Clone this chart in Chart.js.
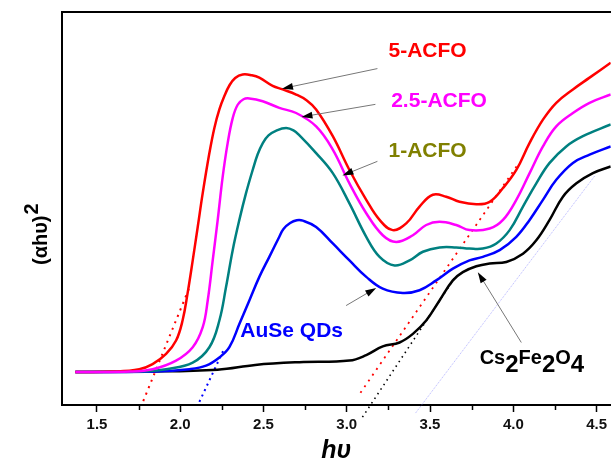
<!DOCTYPE html>
<html>
<head>
  <script src="https://cdn.jsdelivr.net/npm/chart.js"></script>
  <style>
    body { margin:0; background:#fff; }
    #wrap { width:611px; height:460px; }
  </style>
</head>
<body>
<div id="wrap"><canvas id="myChart" width="611" height="460"></canvas></div>
<script>
  var FONT = "'Liberation Sans', Arial, sans-serif";

  // x axis (photon energy) range and ticks
  var xMin = 1.29, xMax = 4.585;
  var xTickValues = [1.5, 2.0, 2.5, 3.0, 3.5, 4.0, 4.5];
  var xTickLabels = ["1.5", "2.0", "2.5", "3.0", "3.5", "4.0", "4.5"];
  var xMinorTicks = [1.75, 2.25, 2.75, 3.25, 3.75, 4.25];

  // 5-ACFO
  var acfo5X = [1.37, 1.60, 1.754, 1.834, 1.915, 1.975, 2.014, 2.044, 2.075, 2.105, 2.135, 2.175, 2.205, 2.235, 2.265, 2.295, 2.33, 2.375, 2.43, 2.475, 2.555, 2.615, 2.696, 2.76, 2.816, 2.916, 3.016, 3.117, 3.197, 3.276, 3.357, 3.437, 3.517, 3.597, 3.677, 3.778, 3.858, 3.938, 4.018, 4.098, 4.178, 4.258, 4.358, 4.458, 4.585];
  var acfo5Y = [8.4, 8.5, 9.1, 10.4, 13.0, 16.4, 21.5, 28.4, 36.8, 45.3, 53.9, 64.1, 70.5, 75.2, 78.6, 81.3, 83.2, 84.1, 83.9, 83.3, 81.2, 80.3, 79.0, 77.5, 75.2, 68.4, 59.8, 52.2, 47.1, 44.5, 46.2, 50.5, 53.5, 53.0, 51.7, 51.1, 51.7, 55.2, 59.8, 66.7, 72.6, 76.9, 80.3, 83.3, 87.1];

  // 2.5-ACFO
  var acfo25X = [1.37, 1.70, 1.834, 1.975, 2.075, 2.135, 2.165, 2.195, 2.225, 2.255, 2.285, 2.315, 2.345, 2.38, 2.415, 2.495, 2.595, 2.696, 2.816, 2.916, 3.016, 3.117, 3.216, 3.297, 3.397, 3.477, 3.557, 3.657, 3.737, 3.858, 3.938, 4.018, 4.098, 4.178, 4.258, 4.358, 4.458, 4.585];
  var acfo25Y = [8.4, 8.5, 9.1, 11.3, 14.7, 19.8, 26.6, 36.8, 47.1, 58.1, 66.7, 73.0, 76.4, 77.8, 78.0, 77.3, 75.6, 74.3, 70.9, 65.0, 56.4, 48.8, 43.2, 41.5, 43.2, 45.8, 46.6, 45.8, 44.5, 44.9, 47.1, 52.2, 59.0, 65.8, 70.9, 74.3, 76.9, 79.0];

  // 1-ACFO
  var acfo1X = [1.37, 1.80, 1.915, 2.075, 2.175, 2.235, 2.275, 2.315, 2.355, 2.395, 2.435, 2.465, 2.495, 2.53, 2.58, 2.636, 2.68, 2.716, 2.816, 2.916, 3.016, 3.117, 3.197, 3.287, 3.377, 3.457, 3.557, 3.657, 3.737, 3.817, 3.898, 3.978, 4.058, 4.138, 4.218, 4.318, 4.418, 4.585];
  var acfo1Y = [8.4, 8.6, 9.1, 10.8, 14.7, 21.5, 30.0, 39.4, 47.1, 53.9, 59.8, 63.8, 66.6, 68.6, 69.9, 70.5, 69.9, 68.6, 64.1, 59.0, 51.3, 42.8, 37.7, 35.5, 36.8, 39.0, 40.1, 40.1, 39.8, 39.8, 41.1, 44.5, 50.5, 56.4, 61.6, 65.8, 68.4, 71.4];

  // AuSe QDs
  var auseX = [1.37, 1.85, 2.055, 2.155, 2.235, 2.295, 2.355, 2.415, 2.475, 2.535, 2.595, 2.62, 2.66, 2.70, 2.736, 2.816, 2.916, 3.016, 3.117, 3.216, 3.337, 3.437, 3.537, 3.637, 3.737, 3.817, 3.918, 4.018, 4.098, 4.178, 4.258, 4.358, 4.458, 4.585];
  var auseY = [8.4, 8.5, 9.1, 10.0, 12.1, 14.7, 20.6, 26.6, 32.6, 37.7, 42.8, 44.8, 46.3, 47.0, 46.9, 45.3, 41.1, 36.8, 32.6, 29.6, 28.5, 29.2, 31.7, 34.7, 36.8, 37.7, 39.4, 42.8, 47.1, 52.2, 57.3, 61.6, 63.7, 65.8];

  // Cs2Fe2O4
  var cfoX = [1.37, 1.80, 2.224, 2.45, 2.716, 3.016, 3.117, 3.216, 3.317, 3.397, 3.477, 3.557, 3.637, 3.697, 3.778, 3.858, 3.958, 4.058, 4.138, 4.218, 4.298, 4.379, 4.478, 4.585];
  var cfoY = [8.4, 8.5, 9.0, 10.2, 10.9, 11.3, 12.7, 14.9, 15.9, 18.1, 21.5, 26.6, 31.7, 33.8, 35.3, 36.0, 36.4, 38.5, 41.9, 47.1, 53.0, 56.4, 59.0, 60.7];

  // band-gap tangent lines (two end points each)
  var tanRedLowX = [1.778, 2.055],  tanRedLowY = [1.0, 29.9];
  var tanBlueX   = [2.115, 2.26],   tanBlueY   = [0.8, 14.0];
  var tanRedHiX  = [3.082, 4.026],  tanRedHiY  = [3.1, 61.1];
  var tanBlackX  = [3.094, 3.653],  tanBlackY  = [-3.1, 32.7];
  var tanLilacX  = [3.413, 4.489],  tanLilacY  = [-2.05, 58.3];

  // curve labels
  var labelText  = ["5-ACFO", "2.5-ACFO", "1-ACFO", "AuSe QDs"];
  var labelX     = [3.485, 3.554, 3.485, 2.669];
  var labelY     = [90.0, 77.3, 64.5, 18.9];
  var labelColor = ["#ff0000", "#ff00ff", "#808000", "#0000ff"];
  var cfoLabelX = 3.798, cfoLabelY = 10.4;

  // pointer arrows: tail -> head
  var arrowTailX = [3.184, 3.172, 3.184, 2.996, 4.048];
  var arrowTailY = [85.6, 76.5, 62.0, 25.3, 15.9];
  var arrowHeadX = [2.611, 2.728, 2.974, 3.177, 3.787];
  var arrowHeadY = [80.5, 73.3, 58.4, 29.8, 33.8];

  function pts(xs, ys) {
    return xs.map(function(x, i) { return {x:x, y:ys[i]}; });
  }

  function curve(xs, ys, color) {
    return {data:pts(xs, ys), borderColor:color, borderWidth:2.5, tension:0.4, pointRadius:0, fill:false};
  }
  function tangent(xs, ys, color, width, dash) {
    return {data:pts(xs, ys), borderColor:color, borderWidth:width, borderDash:dash, pointRadius:0, fill:false, clip:false};
  }

  var extras = {
    id: 'extras',
    afterDatasetsDraw: function(chart) {
      var ctx = chart.ctx, xs = chart.scales.x, ys = chart.scales.y, a = chart.chartArea;
      ctx.save();
      // top frame line
      ctx.strokeStyle = '#000';
      ctx.lineWidth = 2;
      ctx.beginPath();
      ctx.moveTo(a.left - 1, a.top);
      ctx.lineTo(chart.width, a.top);
      ctx.stroke();
      // minor ticks
      ctx.lineWidth = 1.5;
      xMinorTicks.forEach(function(v) {
        var px = Math.round(xs.getPixelForValue(v)) + 0.5;
        ctx.beginPath();
        ctx.moveTo(px, a.bottom);
        ctx.lineTo(px, a.bottom + 5);
        ctx.stroke();
      });
      // arrows
      for (var i = 0; i < arrowTailX.length; i++) {
        var x1 = xs.getPixelForValue(arrowTailX[i]), y1 = ys.getPixelForValue(arrowTailY[i]);
        var x2 = xs.getPixelForValue(arrowHeadX[i]), y2 = ys.getPixelForValue(arrowHeadY[i]);
        var ang = Math.atan2(y2 - y1, x2 - x1);
        ctx.strokeStyle = '#777';
        ctx.lineWidth = 1;
        ctx.beginPath();
        ctx.moveTo(x1, y1);
        ctx.lineTo(x2 - 8 * Math.cos(ang), y2 - 8 * Math.sin(ang));
        ctx.stroke();
        ctx.fillStyle = '#000';
        ctx.beginPath();
        ctx.moveTo(x2, y2);
        ctx.lineTo(x2 - 11 * Math.cos(ang) + 3.5 * Math.sin(ang), y2 - 11 * Math.sin(ang) - 3.5 * Math.cos(ang));
        ctx.lineTo(x2 - 11 * Math.cos(ang) - 3.5 * Math.sin(ang), y2 - 11 * Math.sin(ang) + 3.5 * Math.cos(ang));
        ctx.closePath();
        ctx.fill();
      }
      // curve labels
      ctx.textAlign = 'center';
      ctx.textBaseline = 'middle';
      ctx.font = 'bold 21px ' + FONT;
      for (var j = 0; j < labelText.length; j++) {
        ctx.fillStyle = labelColor[j];
        ctx.fillText(labelText[j], xs.getPixelForValue(labelX[j]), ys.getPixelForValue(labelY[j]));
      }
      // Cs2Fe2O4 with subscripts
      var parts = [["Cs", 0], ["2", 1], ["Fe", 0], ["2", 1], ["O", 0], ["4", 1]];
      var cx = xs.getPixelForValue(cfoLabelX), cy = ys.getPixelForValue(cfoLabelY);
      ctx.textAlign = 'left';
      ctx.textBaseline = 'alphabetic';
      ctx.fillStyle = '#000';
      parts.forEach(function(p) {
        ctx.font = p[1] ? 'bold 24px ' + FONT : 'bold 20px ' + FONT;
        ctx.fillText(p[0], cx, cy + (p[1] ? 8 : 0));
        cx += ctx.measureText(p[0]).width;
      });
      // axis titles
      ctx.font = 'bold italic 25px ' + FONT;
      ctx.textAlign = 'center';
      ctx.fillText('h\u03c5', (a.left + a.right) / 2 + 0, 458);
      ctx.translate(47, 265);
      ctx.rotate(-Math.PI / 2);
      ctx.textAlign = 'left';
      ctx.font = 'bold 20px ' + FONT;
      ctx.fillText('(\u03b1h\u03c5)', 0, 0);
      var w = ctx.measureText('(\u03b1h\u03c5)').width;
      ctx.fillText('2', w + 1, -9);
      ctx.restore();
    }
  };

  var ctx = document.getElementById('myChart');
  new Chart(ctx, {
    type: 'line',
    data: {
      datasets: [
        curve(acfo25X, acfo25Y, '#ff00ff'),
        curve(acfo5X, acfo5Y, '#ff0000'),
        curve(acfo1X, acfo1Y, '#008080'),
        curve(auseX, auseY, '#0000ff'),
        curve(cfoX, cfoY, '#000000'),
        tangent(tanRedLowX, tanRedLowY, '#ff0000', 2, [2, 5]),
        tangent(tanBlueX, tanBlueY, '#0000ff', 2, [2, 4]),
        tangent(tanRedHiX, tanRedHiY, '#ff0000', 1.8, [2, 5]),
        tangent(tanBlackX, tanBlackY, '#000000', 1.6, [1.5, 4]),
        tangent(tanLilacX, tanLilacY, 'rgba(120,120,255,0.55)', 1, [1, 1])
      ]
    },
    options: {
      responsive: false,
      animation: false,
      devicePixelRatio: 1,
      layout: { padding: { left: 62, top: 12, right: 0, bottom: 22 } },
      plugins: { legend: { display: false }, tooltip: { enabled: false } },
      scales: {
        x: {
          type: 'linear', min: xMin, max: xMax,
          afterBuildTicks: function(s) { s.ticks = xTickValues.map(function(v) { return {value:v}; }); },
          ticks: {
            callback: function(v, i) { return xTickLabels[i]; },
            font: { family: FONT, size: 15, weight: 'bold' },
            color: '#111', padding: 4, maxRotation: 0, autoSkip: false
          },
          grid: { drawOnChartArea: false, drawTicks: true, tickLength: 7, tickWidth: 1.5, tickColor: '#000' },
          border: { display: true, color: '#000', width: 2 }
        },
        y: {
          min: 0, max: 100,
          ticks: { display: false },
          grid: { display: false, drawTicks: false },
          border: { display: true, color: '#000', width: 2 }
        }
      }
    },
    plugins: [extras]
  });
</script>
</body>
</html>
